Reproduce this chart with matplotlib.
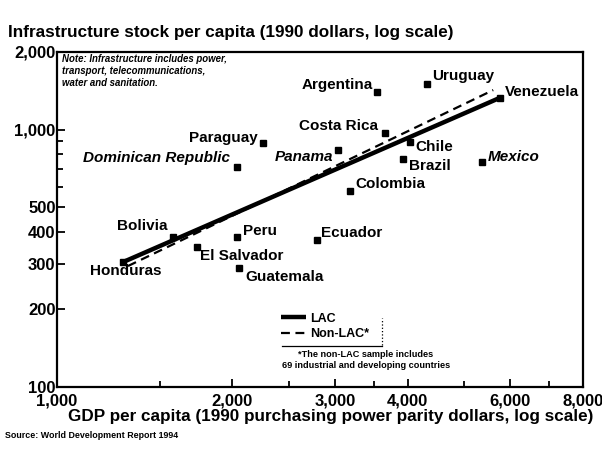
import matplotlib.pyplot as plt
from matplotlib.ticker import FixedLocator, FixedFormatter, LogLocator, NullFormatter

plt.rcParams['font.family'] = ['Liberation Sans', 'DejaVu Sans']

# LAC countries: GDP per capita (1990 PPP $) and infrastructure stock per capita (1990 $)
countries = ['Argentina', 'Uruguay', 'Venezuela', 'Costa Rica', 'Panama', 'Chile',
             'Brazil', 'Colombia', 'Mexico', 'Ecuador', 'Paraguay',
             'Dominican Republic', 'Bolivia', 'Honduras', 'Peru', 'El Salvador',
             'Guatemala']
gdp = [3550, 4310, 5770, 3660, 3040, 4030, 3920, 3180, 5370, 2790, 2260,
       2040, 1580, 1300, 2040, 1740, 2050]
infra = [1400, 1500, 1330, 970, 832, 894, 768, 577, 748, 372, 886,
         715, 382, 306, 382, 350, 290]

# fitted lines (end points)
lac_x = [1300, 5770]
lac_y = [306, 1330]
nonlac_x = [1324, 5610]
nonlac_y = [295, 1423]

xticks = [1000, 2000, 3000, 4000, 6000, 8000]
xtick_labels = ['1,000', '2,000', '3,000', '4,000', '6,000', '8,000']
yticks = [100, 200, 300, 400, 500, 1000, 2000]
ytick_labels = ['100', '200', '300', '400', '500', '1,000', '2,000']

# label offsets in pixels and alignment
label_pos = {
    'Argentina': (-5, 7, 'right'), 'Uruguay': (6, 8, 'left'),
    'Venezuela': (5, 6, 'left'), 'Costa Rica': (-7, 7, 'right'),
    'Panama': (-5, -7, 'right'), 'Chile': (6, -5, 'left'),
    'Brazil': (6, -7, 'left'), 'Colombia': (6, 7, 'left'),
    'Mexico': (6, 5, 'left'), 'Ecuador': (4, 7, 'left'),
    'Paraguay': (-5, 5, 'right'), 'Dominican Republic': (-7, 9, 'right'),
    'Bolivia': (-5, 11, 'right'), 'Honduras': (2, -9, 'center'),
    'Peru': (6, 6, 'left'), 'El Salvador': (3, -9, 'left'),
    'Guatemala': (7, -9, 'left'),
}
italic = {'Dominican Republic', 'Panama', 'Mexico'}

fig = plt.figure(figsize=(6.02, 4.54), dpi=100)
ax = fig.add_axes([57 / 602, 67 / 454, 526 / 602, 335 / 454])
ax.set_xscale('log')
ax.set_yscale('log')
ax.set_xlim(1000, 8000)
ax.set_ylim(100, 2000)

ax.plot(lac_x, lac_y, color='black', lw=3.2, solid_capstyle='butt', label='LAC')
ax.plot(nonlac_x, nonlac_y, color='black', lw=1.6, dashes=(4, 2.5), label='Non-LAC*')
ax.plot(gdp, infra, 's', color='black', ms=3.8, ls='none')

for name, x, y in zip(countries, gdp, infra):
    dx, dy, ha = label_pos[name]
    ax.annotate(name, (x, y), xytext=(dx, dy), textcoords='offset pixels',
                ha=ha, va='center', fontsize=11, fontweight='bold',
                style='italic' if name in italic else 'normal')

ax.xaxis.set_major_locator(FixedLocator(xticks))
ax.xaxis.set_major_formatter(FixedFormatter(xtick_labels))
ax.xaxis.set_minor_locator(LogLocator(subs=[1.5, 2.5, 3.5, 5, 7]))
ax.xaxis.set_minor_formatter(NullFormatter())
ax.yaxis.set_major_locator(FixedLocator(yticks))
ax.yaxis.set_major_formatter(FixedFormatter(ytick_labels))
ax.yaxis.set_minor_locator(LogLocator(subs=[6, 7, 8, 9]))
ax.yaxis.set_minor_formatter(NullFormatter())
ax.tick_params(which='both', direction='in', width=1.3, labelsize=12)
ax.tick_params(which='major', length=6)
ax.tick_params(which='minor', length=4)
ax.tick_params(axis='y', pad=1)
ax.tick_params(axis='x', pad=5)
for lab in ax.get_xticklabels() + ax.get_yticklabels():
    lab.set_fontweight('bold')
for sp in ax.spines.values():
    sp.set_linewidth(1.6)

ax.text(0.01, 0.995, 'Note: Infrastructure includes power,\ntransport, telecommunications,\n'
        'water and sanitation.', transform=ax.transAxes, ha='left', va='top',
        fontsize=6.9, fontweight='bold', style='italic', linespacing=1.25)

leg = ax.legend(loc='upper left', bbox_to_anchor=(0.405, 0.255), frameon=False,
                handlelength=2.0, handletextpad=0.3, labelspacing=0.25,
                prop={'size': 9, 'weight': 'bold'})
ax.plot([0.428, 0.618], [0.122, 0.122], transform=ax.transAxes, color='black', lw=0.9)
ax.plot([0.618, 0.618], [0.125, 0.206], transform=ax.transAxes, color='black',
        lw=0.9, ls=':')
ax.text(0.587, 0.11, '*The non-LAC sample includes\n69 industrial and developing countries',
        transform=ax.transAxes, ha='center', va='top', fontsize=6.6,
        fontweight='bold', linespacing=1.25)

fig.text(8 / 602, 1 - 33 / 454, 'Infrastructure stock per capita (1990 dollars, log scale)',
         ha='left', va='center', fontsize=12.3, fontweight='bold')
fig.text(331 / 602, 1 - 417 / 454,
         'GDP per capita (1990 purchasing power parity dollars, log scale)',
         ha='center', va='center', fontsize=12.3, fontweight='bold')
fig.text(5 / 602, 1 - 436 / 454, 'Source: World Development Report 1994',
         ha='left', va='center', fontsize=6.4, fontweight='bold')

fig.savefig('out.png', dpi=100)
